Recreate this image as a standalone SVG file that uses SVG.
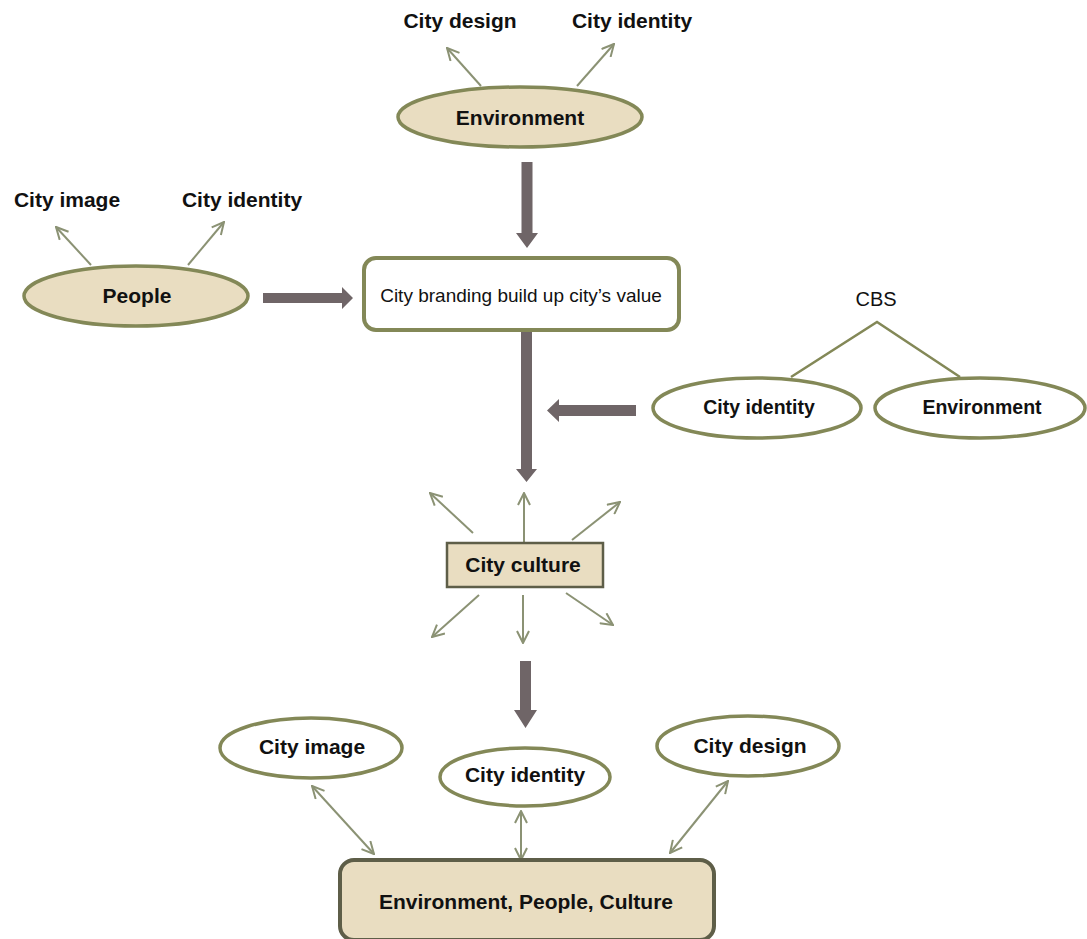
<svg xmlns="http://www.w3.org/2000/svg" width="1087" height="939" viewBox="0 0 1087 939">
<defs>
<style>
text{font-family:"Liberation Sans",Arial,sans-serif;fill:#111;text-anchor:middle}
.b{font-weight:bold;font-size:21px}
.bs{font-weight:bold;font-size:19.5px}
.n{font-size:19px}
.ebeige{fill:#e9ddc1;stroke:#838857;stroke-width:3.5}
.ewhite{fill:#fff;stroke:#838857;stroke-width:3.5}
.thin{fill:none;stroke:#8b9274;stroke-width:2}
.big{fill:#6f6567}
.cbs{fill:none;stroke:#838857;stroke-width:2.5}
</style>
<marker id="ah" viewBox="0 0 14 14" refX="13" refY="7" markerWidth="14" markerHeight="14" markerUnits="userSpaceOnUse" orient="auto-start-reverse">
<path d="M1,1 L13,7 L1,13" fill="none" stroke="#8b9274" stroke-width="2"/>
</marker>
</defs>
<rect width="1087" height="939" fill="#fff"/>

<g id="connectors">
<line class="thin" x1="481" y1="86" x2="447" y2="48" marker-end="url(#ah)"/>
<line class="thin" x1="577" y1="86" x2="614" y2="44" marker-end="url(#ah)"/>
<line class="thin" x1="91" y1="265" x2="56" y2="227" marker-end="url(#ah)"/>
<line class="thin" x1="188" y1="265" x2="224" y2="222" marker-end="url(#ah)"/>
<line class="thin" x1="524" y1="543" x2="524" y2="493" marker-end="url(#ah)"/>
<line class="thin" x1="473" y1="533" x2="430" y2="493" marker-end="url(#ah)"/>
<line class="thin" x1="572" y1="540" x2="620" y2="502" marker-end="url(#ah)"/>
<line class="thin" x1="479" y1="595" x2="432" y2="637" marker-end="url(#ah)"/>
<line class="thin" x1="523" y1="595" x2="523" y2="643" marker-end="url(#ah)"/>
<line class="thin" x1="566" y1="593" x2="613" y2="625" marker-end="url(#ah)"/>
<line class="thin" x1="312" y1="786" x2="374" y2="854" marker-start="url(#ah)" marker-end="url(#ah)"/>
<line class="thin" x1="521" y1="811" x2="521" y2="860" marker-start="url(#ah)" marker-end="url(#ah)"/>
<line class="thin" x1="728" y1="781" x2="670" y2="853" marker-start="url(#ah)" marker-end="url(#ah)"/>
<polyline class="cbs" points="791,377 877,322 960,377"/>
<polygon class="big" points="521.5,162 532.5,162 532.5,233 538,233 527,248 516,233 521.5,233"/>
<polygon class="big" points="521,332 532,332 532,469 537,469 526.5,482 516,469 521,469"/>
<polygon class="big" points="636,405 636,416 559,416 559,422 547,410.5 559,399 559,405"/>
<polygon class="big" points="263,293 342,293 342,287 353,298 342,309 342,303 263,303"/>
<polygon class="big" points="520,661 531,661 531,710 537,710 525.5,728 514,710 520,710"/>
</g>

<g id="lbl-top-design"><text class="b" x="460" y="28">City design</text></g>
<g id="lbl-top-identity"><text class="b" x="632" y="28">City identity</text></g>
<g id="lbl-people-image"><text class="b" x="67" y="207">City image</text></g>
<g id="lbl-people-identity"><text class="b" x="242" y="207">City identity</text></g>

<g id="environment-top">
<ellipse class="ebeige" cx="520" cy="117" rx="122" ry="30"/>
<text class="b" x="520" y="125">Environment</text>
</g>

<g id="people">
<ellipse class="ebeige" cx="136" cy="296" rx="112" ry="30"/>
<text class="b" x="137" y="303">People</text>
</g>

<g id="branding">
<rect x="364" y="258" width="315" height="72" rx="12" fill="#fff" stroke="#838857" stroke-width="4"/>
<text class="n" x="521" y="302">City branding build up city’s value</text>
</g>

<g id="cbs">
<text x="876" y="306" style="font-size:20px">CBS</text>
</g>

<g id="cbs-identity">
<ellipse class="ewhite" cx="757" cy="408" rx="104" ry="30"/>
<text class="bs" x="759" y="414">City identity</text>
</g>

<g id="cbs-environment">
<ellipse class="ewhite" cx="980" cy="408" rx="105" ry="30"/>
<text class="bs" x="982" y="414">Environment</text>
</g>

<g id="culture">
<rect x="447" y="543" width="156" height="44" fill="#e9ddc1" stroke="#5e5e48" stroke-width="2.5"/>
<text class="b" x="523" y="572">City culture</text>
</g>

<g id="bottom-image">
<ellipse class="ewhite" cx="311" cy="748" rx="91" ry="30"/>
<text class="b" x="312" y="754">City image</text>
</g>

<g id="bottom-identity">
<ellipse class="ewhite" cx="525" cy="777" rx="85" ry="29"/>
<text class="b" x="525" y="782">City identity</text>
</g>

<g id="bottom-design">
<ellipse class="ewhite" cx="748" cy="746" rx="91" ry="30"/>
<text class="b" x="750" y="753">City design</text>
</g>

<g id="epc">
<rect x="340" y="860" width="374" height="80" rx="14" fill="#e9ddc1" stroke="#5e5e48" stroke-width="4"/>
<text class="b" x="526" y="909">Environment, People, Culture</text>
</g>
</svg>
